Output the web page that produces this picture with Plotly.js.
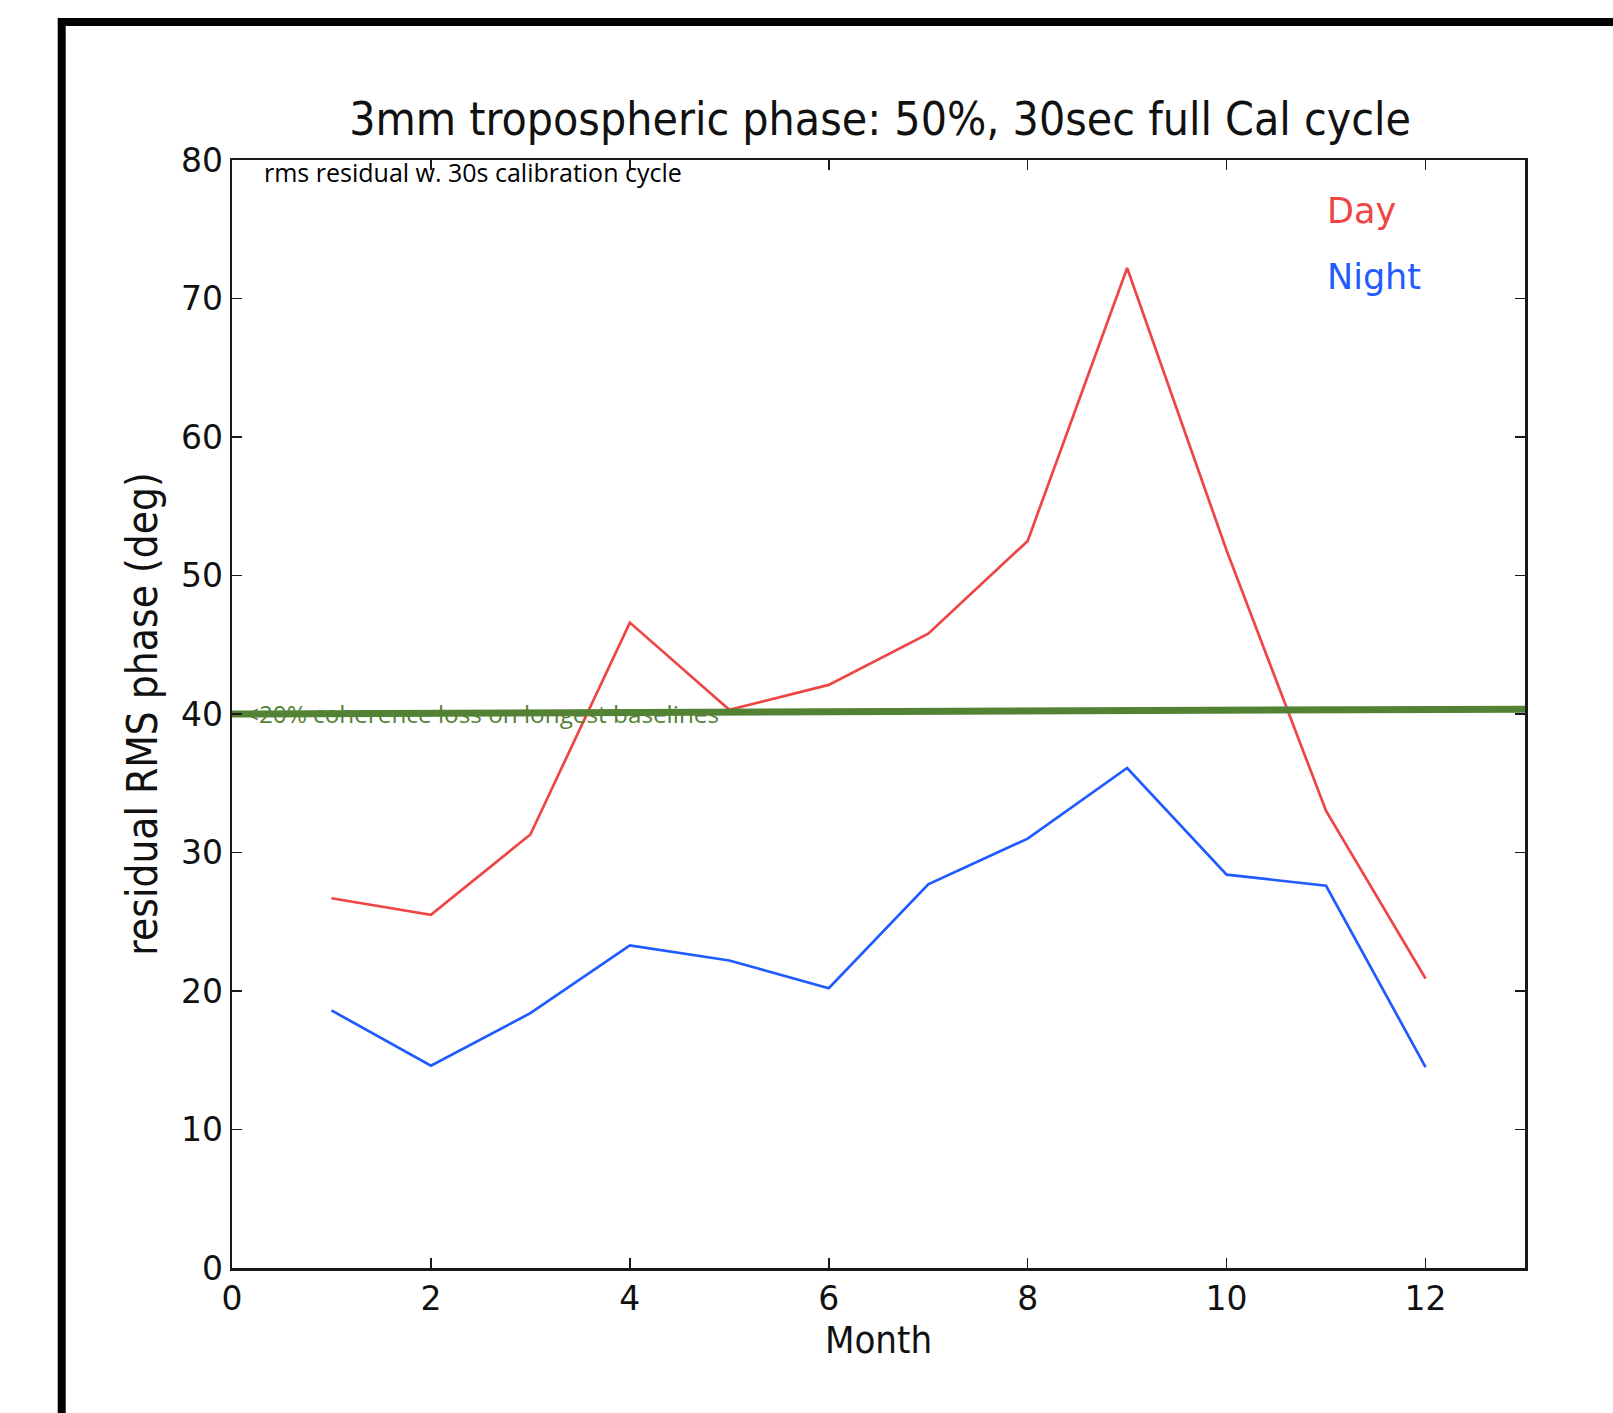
<!DOCTYPE html>
<html>
<head>
<meta charset="utf-8">
<script src="https://cdn.plot.ly/plotly-3.0.1.min.js"></script>
<style>html,body{margin:0;padding:0;background:#fff;}#chart{width:1613px;height:1413px;}</style>
</head>
<body>
<div id="chart"></div>
<script>
const months = [1, 2, 3, 4, 5, 6, 7, 8, 9, 10, 11, 12];
const dayRms = [26.7, 25.5, 31.3, 46.6, 40.3, 42.1, 45.8, 52.5, 72.2, 51.8, 33.0, 20.9];
const nightRms = [18.6, 14.6, 18.4, 23.3, 22.2, 20.2, 27.7, 31.0, 36.1, 28.4, 27.6, 14.5];
const thresholdX = [0, 13];
const thresholdY = [40.0, 40.35];
const xTicks = [0, 2, 4, 6, 8, 10, 12];
const yTicks = [0, 10, 20, 30, 40, 50, 60, 70, 80];

const traces = [
  {x: months, y: dayRms, mode: 'lines', name: 'Day', line: {color: '#ee4545', width: 2.7}},
  {x: months, y: nightRms, mode: 'lines', name: 'Night', line: {color: '#1f5bff', width: 2.7}},
  {x: thresholdX, y: thresholdY, mode: 'lines', name: 'threshold', line: {color: '#548235', width: 7}}
];

const axisCommon = {
  showgrid: false, zeroline: false, showline: true, linecolor: '#1a1a1a', linewidth: 2.5,
  mirror: 'ticks', ticks: 'inside', ticklen: 10, tickwidth: 1.5, tickcolor: '#1a1a1a',
  tickfont: {family: 'DejaVu Sans', size: 33, color: '#111'}
};

const layout = {
  width: 1613, height: 1413,
  margin: {l: 232, r: 88, t: 160, b: 145, pad: 0},
  paper_bgcolor: '#fff', plot_bgcolor: '#fff',
  showlegend: false,
  title: {
    text: '3mm tropospheric phase: 50%, 30sec full Cal cycle',
    font: {family: 'DejaVu Sans Condensed, DejaVu Sans', size: 46, color: '#111'},
    xref: 'container', yref: 'container', x: 0.5456, y: 0.916, xanchor: 'center', yanchor: 'middle'
  },
  xaxis: Object.assign({}, axisCommon, {
    range: [0, 13], tickvals: xTicks, ticktext: xTicks.map(String),
    title: {text: 'Month', font: {family: 'DejaVu Sans Condensed, DejaVu Sans', size: 38, color: '#111'}, standoff: 10}
  }),
  yaxis: Object.assign({}, axisCommon, {
    range: [0, 80], tickvals: yTicks, ticktext: yTicks.map(String),
    title: {text: 'residual RMS phase (deg)', font: {family: 'DejaVu Sans Condensed, DejaVu Sans', size: 42, color: '#111'}, standoff: 10}
  }),
  annotations: [
    {text: 'rms residual w. 30s calibration cycle', xref: 'paper', yref: 'paper', x: 0.023, y: 0.9896,
     xanchor: 'left', yanchor: 'middle', showarrow: false, font: {family: 'Open Sans', size: 25, color: '#000'}},
    {text: '&lt;20% coherence loss on longest baselines', xref: 'paper', yref: 'paper', x: 0.0085, y: 0.5004,
     xanchor: 'left', yanchor: 'middle', showarrow: false, font: {family: 'Open Sans', size: 24.3, color: '#548235'}},
    {text: 'Day', xref: 'paper', yref: 'paper', x: 0.845, y: 0.954, xanchor: 'left', yanchor: 'middle',
     showarrow: false, font: {family: 'DejaVu Sans', size: 35, color: '#ee4545'}},
    {text: 'Night', xref: 'paper', yref: 'paper', x: 0.845, y: 0.894, xanchor: 'left', yanchor: 'middle',
     showarrow: false, font: {family: 'DejaVu Sans', size: 35, color: '#1f5bff'}}
  ],
  shapes: [
    {type: 'line', xref: 'paper', yref: 'paper', x0: (61.7 - 232) / 1293, x1: 1.2, y0: (1268.5 - 22.5) / 1108, y1: (1268.5 - 22.5) / 1108,
     line: {color: '#000', width: 8}},
    {type: 'line', xref: 'paper', yref: 'paper', x0: (61.7 - 232) / 1293, x1: (61.7 - 232) / 1293, y0: (1268.5 - 18.5) / 1108, y1: -0.3,
     line: {color: '#000', width: 8}}
  ]
};

Plotly.newPlot('chart', traces, layout, {displayModeBar: false, staticPlot: true});
</script>
</body>
</html>
